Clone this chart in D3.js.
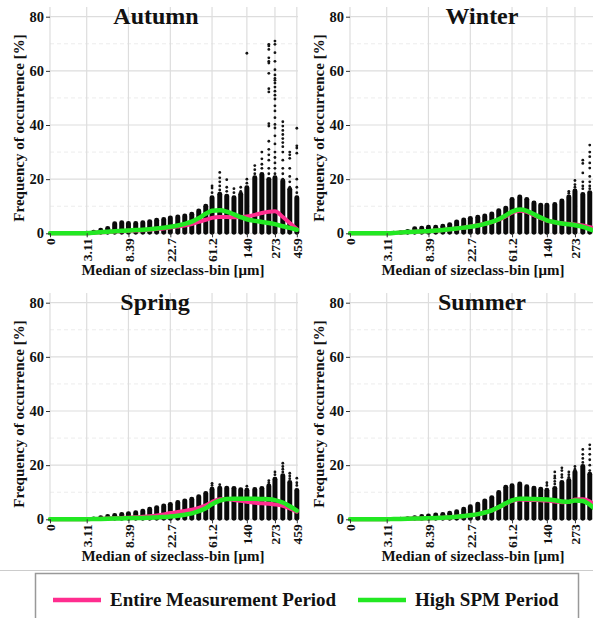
<!DOCTYPE html>
<html>
<head>
<meta charset="utf-8">
<script src="https://cdn.jsdelivr.net/npm/d3@7"></script>
<style>
  html, body { margin: 0; padding: 0; background: #fff; }
  svg { display: block; }
  text { font-family: "Liberation Serif", "Times New Roman", serif; font-weight: bold; fill: #111; }
</style>
</head>
<body>
<div id="chart"></div>
<script>
// Size-class bin medians [µm] (first entry is the axis origin, labelled "0")
const bins = [1.3, 1.6, 1.89, 2.23, 2.63, 3.11, 3.67, 4.34, 5.12, 6.05, 7.15, 8.39, 9.97, 11.8, 13.9,
  16.4, 19.4, 22.7, 27.1, 32.0, 37.8, 44.6, 52.7, 61.2, 73.5, 86.8, 103, 121, 140, 169, 200, 236, 273, 329, 388, 459];

const xTickValues = [1.3, 3.11, 8.39, 22.7, 61.2, 140, 273, 459];
const xTickLabels = ["0", "3.11", "8.39", "22.7", "61.2", "140", "273", "459"];
const yTickValues = [0, 20, 40, 60, 80];
const yMinorValues = [10, 30, 50, 70];

// Upper edge of the dense cloud of observations per bin [%]
const autumnTop = [0,0,0,0,0, 0.4,0.8,1.5,2.2,3.9,4.3,4.0,4.0,4.3,4.7,5.2,5.5,6.1,6.4,6.8,7.4,8.6,10.4,13.5,14.8,14.1,13.5,14.8,17.2,20.9,22.1,20.3,20.9,19.7,16.6,13.5];
const winterTop = [0,0,0,0,0, 0.3,0.4,0.6,1.1,2.1,2.3,2.6,2.6,3.0,3.6,4.6,5.3,5.9,6.3,6.8,7.5,8.7,9.7,12.9,13.8,12.9,11.6,10.8,10.8,11.0,12.3,13.8,16.0,14.7,15.4,14.0];
const springTop = [0,0,0,0,0, 0.3,0.5,1.0,1.4,1.8,2.2,2.5,2.8,3.4,4.1,4.7,5.3,5.9,6.6,7.2,7.8,8.7,9.9,11.5,11.9,11.9,11.8,11.3,11.1,11.4,11.8,12.7,15.2,16.5,14.0,11.0];
const summerTop = [0,0,0,0,0, 0.2,0.3,0.4,0.6,1.0,1.4,1.6,2.0,2.2,2.6,3.2,4.1,5.0,6.0,7.2,8.4,10.3,12.2,12.8,13.4,12.4,11.9,11.5,11.1,11.8,14.0,14.7,17.8,19.9,17.0,15.0];

// Scattered single observations above the dense cloud: [bin, values]
const autumnOut = [
  [61.2, [15, 16.7, 17.5]],
  [73.5, [16, 17.5, 19, 20.5, 22.5]],
  [86.8, [15.5, 17, 19.8]],
  [103, [15, 16.5]],
  [121, [15.5, 17]],
  [140, [18.5, 20, 66.5]],
  [169, [22, 23.5, 25]],
  [200, [24, 25.5, 27.5, 30]],
  [236, [22, 24, 27, 29, 31, 34, 39.6, 40.5, 52.2, 53.4, 59.1, 62.9, 63.5, 64.8, 67.9, 69.2, 69.8]],
  [273, [22, 24, 26, 28, 30, 33, 36, 38.9, 40.2, 42.7, 45.2, 47.1, 49.6, 51, 52.5, 54, 55.5, 56.5, 57.2, 58.5, 60.4, 63.5, 66.7, 69.8, 71]],
  [329, [20, 22, 24, 27, 30, 32, 33.5, 35, 36.5, 38, 39.6, 41.2]],
  [388, [17, 19, 21, 24, 27.7, 29, 30]],
  [459, [15, 17, 20, 29.6, 31.5, 32.3, 38.8]]
];
const winterOut = [
  [236, [14.8, 15.5]],
  [273, [17, 18, 19.5]],
  [329, [16.5, 17.5, 19, 22.3, 25.8, 27]],
  [388, [16.5, 17.5, 19, 21, 24.1, 26, 28.3, 30, 32.6]],
  [459, [15.5, 17, 20, 23, 43]]
];
const springOut = [
  [61.2, [12.5, 13.3]],
  [73.5, [12.8]],
  [140, [12.2]],
  [236, [13.5, 14.3]],
  [273, [16.5, 17.5]],
  [329, [17.5, 18.5, 19.5, 20.7]],
  [388, [15, 16, 17]],
  [459, [12.5, 13.5, 15.2]]
];
const summerOut = [
  [140, [12.5, 13.5]],
  [169, [13, 14, 15.2, 16, 17.5]],
  [200, [15.5, 16.5, 18, 19]],
  [236, [15.5, 16.5, 17.5]],
  [273, [18.5, 19.5]],
  [329, [21, 22.5, 24, 25.8]],
  [388, [18, 20, 22, 24, 26, 27.5]],
  [459, [16, 18]]
];

// Smoothed mean frequency per bin: entire period and high-SPM period [%]
const autumnAll  = [0,0,0,0,0, 0.05,0.2,0.35,0.5,0.7,0.8,0.9,1.0,1.15,1.3,1.55,1.8,2.1,2.5,2.9,3.4,4.2,5.0,5.7,6.0,6.0,5.9,6.0,6.2,6.8,7.5,8.0,8.1,6.0,3.8,1.6];
const autumnHigh = [0,0,0,0,0, 0.05,0.2,0.4,0.6,0.8,0.9,1.0,1.2,1.3,1.5,1.8,2.1,2.4,2.9,3.5,4.3,5.6,7.2,8.3,8.5,8.0,7.0,6.0,5.2,4.6,4.2,3.8,3.4,2.6,2.0,1.3];
const winterAll  = [0,0,0,0,0, 0.05,0.15,0.3,0.45,0.6,0.7,0.8,1.0,1.2,1.5,1.8,2.1,2.5,3.0,3.5,4.1,5.0,6.3,7.6,8.3,7.9,6.7,5.6,4.7,4.1,3.7,3.5,3.3,2.9,2.3,1.5];
const winterHigh = [0,0,0,0,0, 0.05,0.15,0.3,0.45,0.6,0.7,0.8,1.0,1.2,1.5,1.8,2.1,2.4,2.9,3.5,4.2,5.2,6.6,8.0,8.8,8.3,7.0,5.8,4.8,4.1,3.6,3.3,3.0,2.4,1.5,0.7];
const springAll  = [0,0,0,0,0, 0.02,0.1,0.2,0.3,0.4,0.5,0.6,0.75,0.9,1.1,1.4,1.8,2.3,2.7,3.1,3.5,4.2,5.2,6.4,7.4,7.5,7.1,6.8,6.5,6.1,5.9,5.7,5.5,5.0,4.0,2.8];
const springHigh = [0,0,0,0,0, 0.02,0.1,0.15,0.2,0.25,0.3,0.4,0.45,0.5,0.6,0.7,0.85,1.0,1.3,1.7,2.2,3.0,4.1,5.6,6.9,7.5,7.6,7.6,7.6,7.6,7.5,7.4,7.1,6.2,4.8,3.2];
const summerAll  = [0,0,0,0,0, 0.02,0.1,0.15,0.2,0.25,0.3,0.4,0.5,0.6,0.7,0.9,1.2,1.5,1.9,2.5,3.3,4.4,5.8,6.8,7.3,7.2,7.1,7.0,6.9,6.6,6.3,6.4,7.3,7.4,6.6,4.5];
const summerHigh = [0,0,0,0,0, 0.02,0.1,0.15,0.2,0.25,0.3,0.4,0.5,0.6,0.7,0.9,1.2,1.5,1.9,2.5,3.3,4.5,5.9,7.0,7.6,7.6,7.5,7.4,7.3,7.0,6.6,6.5,6.9,6.8,5.4,3.2];

const seasons = ["Autumn", "Winter", "Spring", "Summer"];
const legendLabels = ["Entire Measurement Period", "High SPM Period"];

const W = 593, H = 618;
const PINK = "#ff2d8f", GREEN = "#22e822";

const svg = d3.select("#chart").append("svg")
  .attr("width", W).attr("height", H)
  .attr("viewBox", `0 0 ${W} ${H}`);
svg.append("rect").attr("width", W).attr("height", H).attr("fill", "#fff");

const panels = [
  { name: seasons[0], top: autumnTop, out: autumnOut, all: autumnAll, high: autumnHigh, ox: 0,   oy: 0,   tx: 156 },
  { name: seasons[1], top: winterTop, out: winterOut, all: winterAll, high: winterHigh, ox: 300, oy: 0,   tx: 182 },
  { name: seasons[2], top: springTop, out: springOut, all: springAll, high: springHigh, ox: 0,   oy: 286, tx: 155 },
  { name: seasons[3], top: summerTop, out: summerOut, all: summerAll, high: summerHigh, ox: 300, oy: 286, tx: 182 }
];

const px0 = 50, px1 = 297, pyTop = 7, pyBot = 235;
const x = d3.scaleLog().domain([1.3, 461]).range([px0, px1]);
const y = d3.scaleLinear().domain([0, 80]).range([233.3, 16.7]);

panels.forEach(p => {
  const g = svg.append("g").attr("transform", `translate(${p.ox},${p.oy})`);

  // minor horizontal grid (dashed)
  g.append("g").selectAll("line").data(yMinorValues).join("line")
    .attr("x1", px0).attr("x2", px1 + 1)
    .attr("y1", d => y(d)).attr("y2", d => y(d))
    .attr("stroke", "#ececec").attr("stroke-width", 1).attr("stroke-dasharray", "4,3");
  // major grid
  g.append("g").selectAll("line").data(yTickValues).join("line")
    .attr("x1", px0).attr("x2", px1 + 1)
    .attr("y1", d => y(d)).attr("y2", d => y(d))
    .attr("stroke", "#dddddd").attr("stroke-width", 1.2);
  g.append("g").selectAll("line").data(xTickValues).join("line")
    .attr("x1", d => x(d)).attr("x2", d => x(d))
    .attr("y1", pyTop).attr("y2", pyBot)
    .attr("stroke", "#dddddd").attr("stroke-width", 1.2);

  // dense observation clouds per bin
  const cols = bins.map((b, i) => ({ b, v: p.top[i] })).filter(d => d.v > 0);
  g.append("g").selectAll("rect").data(cols).join("rect")
    .attr("x", d => x(d.b) - 2.5)
    .attr("width", 5)
    .attr("y", d => y(d.v) - 1.4)
    .attr("height", d => y(0) - y(d.v) + 2.8)
    .attr("rx", 2.4)
    .attr("fill", "#0a0a0a");

  // scattered single observations
  const pts = p.out.flatMap(([b, vals]) => vals.map(v => ({ b, v })));
  g.append("g").selectAll("circle").data(pts).join("circle")
    .attr("cx", d => x(d.b)).attr("cy", d => y(d.v))
    .attr("r", 1.4).attr("fill", "#151515");

  // smoothed curves
  const line = d3.line()
    .x((d, i) => x(bins[i]))
    .y(d => y(d))
    .curve(d3.curveMonotoneX);
  g.append("path").attr("d", line(p.all))
    .attr("fill", "none").attr("stroke", PINK).attr("stroke-width", 4)
    .attr("stroke-linejoin", "round").attr("stroke-linecap", "round");
  g.append("path").attr("d", line(p.high))
    .attr("fill", "none").attr("stroke", GREEN).attr("stroke-width", 4.5)
    .attr("stroke-linejoin", "round").attr("stroke-linecap", "round");

  // y axis
  const ya = g.append("g").attr("transform", `translate(${px0},0)`)
    .call(d3.axisLeft(y).tickValues(yTickValues).tickSize(4).tickPadding(2));
  ya.select(".domain").remove();
  ya.selectAll("line").attr("stroke", "#333");
  ya.selectAll("text").attr("font-size", 14.5).attr("font-family", "Liberation Serif").attr("font-weight", "bold").attr("fill", "#111");

  // x axis with rotated labels
  const xa = g.append("g").attr("transform", `translate(0,${y(0)})`)
    .call(d3.axisBottom(x).tickValues(xTickValues).tickFormat((d, i) => xTickLabels[i]).tickSize(4));
  xa.select(".domain").remove();
  xa.selectAll("line").attr("stroke", "#333");
  xa.selectAll("text")
    .attr("transform", "rotate(-90)")
    .attr("x", -5).attr("y", 0).attr("dy", "0.36em")
    .style("text-anchor", "end")
    .attr("font-size", 13.5).attr("font-family", "Liberation Serif").attr("font-weight", "bold").attr("fill", "#111");

  // axis titles
  g.append("text")
    .attr("x", 173).attr("y", 275)
    .attr("text-anchor", "middle").attr("font-size", 15)
    .text("Median of sizeclass-bin [μm]");
  g.append("text")
    .attr("transform", "translate(24,128) rotate(-90)")
    .attr("text-anchor", "middle").attr("font-size", 15)
    .text("Frequency of occurrence [%]");

  // season title
  g.append("text")
    .attr("x", p.tx).attr("y", 24)
    .attr("text-anchor", "middle").attr("font-size", 24)
    .text(p.name);
});

// legend
svg.append("line").attr("x1", 0).attr("x2", W).attr("y1", 570.5).attr("y2", 570.5)
  .attr("stroke", "#cccccc").attr("stroke-width", 1);
svg.append("rect").attr("x", 35.5).attr("y", 573.5).attr("width", 543).attr("height", 60)
  .attr("fill", "#fff").attr("stroke", "#999").attr("stroke-width", 1.5);

const legendItems = [
  { label: legendLabels[0], color: PINK,  x: 53 },
  { label: legendLabels[1], color: GREEN, x: 358 }
];
const lg = svg.append("g").selectAll("g").data(legendItems).join("g")
  .attr("transform", d => `translate(${d.x},600)`);
lg.append("line").attr("x1", 0).attr("x2", 48).attr("y1", 0).attr("y2", 0)
  .attr("stroke", d => d.color).attr("stroke-width", 4.5);
lg.append("text").attr("x", 57).attr("y", 6).attr("font-size", 19).text(d => d.label);
</script>
</body>
</html>
